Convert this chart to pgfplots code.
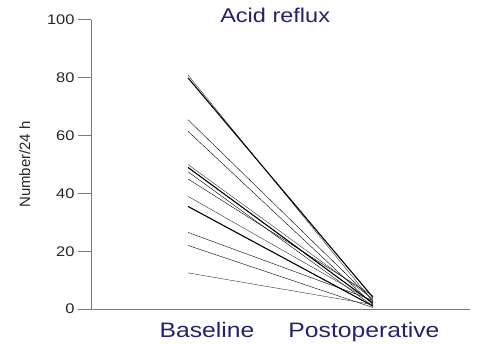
\documentclass[border=0pt]{standalone}
\usepackage{pgfplots}
\pgfplotsset{compat=1.18}
\usepackage{fontspec}
\setmainfont{Liberation Sans}[FakeStretch=1.18]
\newfontfamily\ylfont{Liberation Sans}
\definecolor{navy}{HTML}{22226E}
\definecolor{axgray}{HTML}{7A7A7A}
\definecolor{linegray}{HTML}{333333}
\begin{document}
\begin{tikzpicture}
\begin{axis}[
  scale only axis, width=379bp, height=289bp,
  xmin=0.476, xmax=2.524, ymin=0, ymax=100,
  axis x line*=bottom, axis y line*=left,
  axis line style={draw=axgray, line width=1pt},
  xtick={1.103,1.951}, xticklabels={Baseline,Postoperative},
  x tick label style={font=\fontsize{21}{24}\selectfont, text=navy, yshift=3bp},
  major x tick style={draw=none},
  ytick={0,20,...,100},
  tick align=outside, major tick length=13bp,
  y tick style={draw=axgray, line width=1pt},
  y tick label style={font=\fontsize{14}{16}\selectfont, text=black!85},
  /pgf/number format/assume math mode=true,
  ylabel={Number/24 h}, ylabel shift=10bp,
  ylabel style={font=\ylfont\fontsize{15}{17}\selectfont, text=black!85},
  clip=false,
  cycle list={{draw=linegray, line width=1.1pt, solid, mark=none}},
]
\addplot coordinates {(1,81) (2,2.5)};
\addplot coordinates {(1,80) (2,4)};
\addplot coordinates {(1,65.5) (2,3)};
\addplot coordinates {(1,61.5) (2,1.5)};
\addplot coordinates {(1,50) (2,3.5)};
\addplot coordinates {(1,49) (2,2)};
\addplot coordinates {(1,47.5) (2,1)};
\addplot coordinates {(1,45) (2,4.5)};
\addplot coordinates {(1,39) (2,2.5)};
\addplot coordinates {(1,35.5) (2,1)};
\addplot coordinates {(1,26.5) (2,3)};
\addplot coordinates {(1,22) (2,0.5)};
\addplot coordinates {(1,12.5) (2,1.5)};
\node[anchor=base, font=\fontsize{20}{24}\selectfont, text=navy] at (rel axis cs:0.486,1) [yshift=-3bp] {Acid reflux};
\end{axis}
\pgfresetboundingbox
\path ([shift={(-91bp,-35bp)}]current axis.south west) rectangle ([shift={(7bp,20bp)}]current axis.north east);
\end{tikzpicture}
\end{document}
